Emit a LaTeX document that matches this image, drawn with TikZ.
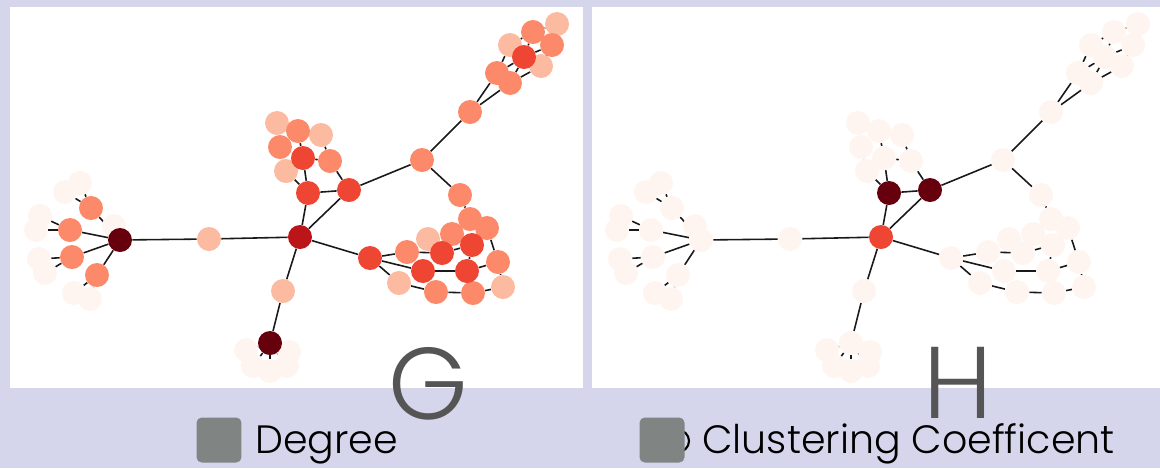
\documentclass[tikz,border=0pt]{standalone}
\usepackage{fontspec}
\setmainfont{Poppins}[UprightFont={* Light}]
\definecolor{bg}{RGB}{213,214,235}
\definecolor{c0}{RGB}{255,245,240}
\definecolor{c1}{RGB}{252,187,161}
\definecolor{c2}{RGB}{252,138,106}
\definecolor{c3}{RGB}{239,69,51}
\definecolor{c4}{RGB}{187,21,26}
\definecolor{c5}{RGB}{103,0,13}
\definecolor{gg}{RGB}{128,133,131}
\definecolor{tt}{RGB}{85,85,85}
\pgfdeclarelayer{back}
\pgfdeclarelayer{wires}
\pgfsetlayers{back,wires,main}
\def\hshift{581}
\def\noderad{0.48cm}
\newcommand{\netnode}[5]{\node[circle,minimum size=\noderad,inner sep=0pt,fill=#4] (g#3) at (#1,#2) {};
	\node[circle,minimum size=\noderad,inner sep=0pt,fill=#5] (h#3) at (#1+\hshift,#2) {}; }
\newcommand{\netedge}[2]{\draw[line width=0.9pt,color=black!90] (g#1) -- (g#2);
	\draw[line width=0.9pt,color=black!90] (h#1) -- (h#2); }

\begin{document}
\begin{tikzpicture}[x=0.02cm,y=-0.02cm]
\useasboundingbox (0,0) rectangle (1160,468);
\begin{pgfonlayer}{back}
\fill[bg] (0,0) rectangle (1160,468);
\fill[white] (10,7) rectangle (583,388);
\fill[white] (592,7) rectangle (1160,388);
\end{pgfonlayer}

\netnode{114}{226}{L0}{c0}{c0}
\netnode{80}{183}{L1}{c0}{c0}
\netnode{65}{192}{L2}{c0}{c0}
\netnode{40}{216}{L3}{c0}{c0}
\netnode{36}{230}{L4}{c0}{c0}
\netnode{39}{259}{L5}{c0}{c0}
\netnode{45}{273}{L6}{c0}{c0}
\netnode{74}{293}{L7}{c0}{c0}
\netnode{90}{299}{L8}{c0}{c0}
\netnode{246}{350}{E1}{c0}{c0}
\netnode{253}{366}{E2}{c0}{c0}
\netnode{270}{371}{E3}{c0}{c0}
\netnode{287}{366}{E4}{c0}{c0}
\netnode{289}{352}{E5}{c0}{c0}

\netnode{209}{239}{M}{c1}{c0}
\netnode{283}{291}{D}{c1}{c0}
\netnode{277}{123}{P1}{c1}{c0}
\netnode{321}{135}{P3}{c1}{c0}
\netnode{286}{171}{P7}{c1}{c0}
\netnode{510}{45}{R4}{c1}{c0}
\netnode{541}{66}{R7}{c1}{c0}
\netnode{557}{24}{R8}{c1}{c0}
\netnode{428}{239}{T4}{c1}{c0}
\netnode{399}{283}{T11}{c1}{c0}
\netnode{503}{287}{T14}{c1}{c0}

\netnode{91}{208}{B1}{c2}{c0}
\netnode{70}{230}{B2}{c2}{c0}
\netnode{72}{257}{B3}{c2}{c0}
\netnode{97}{275}{B4}{c2}{c0}
\netnode{298}{131}{P2}{c2}{c0}
\netnode{280}{147}{P4}{c2}{c0}
\netnode{330}{161}{P6}{c2}{c0}
\netnode{422}{160}{K}{c2}{c0}
\netnode{470}{112}{R0}{c2}{c0}
\netnode{460}{195}{Q}{c2}{c0}
\netnode{497}{73}{R1}{c2}{c0}
\netnode{510}{83}{R2}{c2}{c0}
\netnode{533}{32}{R5}{c2}{c0}
\netnode{552}{45}{R6}{c2}{c0}
\netnode{470}{219}{T1}{c2}{c0}
\netnode{487}{228}{T2}{c2}{c0}
\netnode{452}{234}{T3}{c2}{c0}
\netnode{407}{252}{T5}{c2}{c0}
\netnode{498}{262}{T8}{c2}{c0}
\netnode{436}{292}{T12}{c2}{c0}
\netnode{473}{293}{T13}{c2}{c0}

\netnode{303}{158}{P5}{c3}{c0}
\netnode{308}{193}{P8}{c3}{c5}
\netnode{349}{190}{P9}{c3}{c5}
\netnode{524}{57}{R3}{c3}{c0}
\netnode{370}{258}{S}{c3}{c0}
\netnode{442}{253}{T6}{c3}{c0}
\netnode{472}{245}{T7}{c3}{c0}
\netnode{423}{271}{T9}{c3}{c0}
\netnode{467}{271}{T10}{c3}{c0}

\netnode{300}{237}{C}{c4}{c3}
\netnode{120}{240}{A}{c5}{c0}
\netnode{270}{343}{E}{c5}{c0}

\begin{pgfonlayer}{wires}
\netedge{A}{M}
\netedge{M}{C}
\netedge{A}{L0}
\netedge{A}{B1}
\netedge{A}{B2}
\netedge{A}{B3}
\netedge{A}{B4}
\netedge{B1}{L1}
\netedge{B1}{L2}
\netedge{B2}{L3}
\netedge{B2}{L4}
\netedge{B3}{L5}
\netedge{B3}{L6}
\netedge{B4}{L7}
\netedge{B4}{L8}
\netedge{C}{D}
\netedge{D}{E}
\netedge{E}{E1}
\netedge{E}{E2}
\netedge{E}{E3}
\netedge{E}{E4}
\netedge{E}{E5}
\netedge{C}{P8}
\netedge{C}{P9}
\netedge{P8}{P9}
\netedge{P8}{P5}
\netedge{P8}{P7}
\netedge{P9}{P6}
\netedge{P5}{P2}
\netedge{P5}{P6}
\netedge{P6}{P3}
\netedge{P4}{P7}
\netedge{P1}{P2}
\netedge{P9}{K}
\netedge{K}{R0}
\netedge{K}{Q}
\netedge{R0}{R1}
\netedge{R0}{R2}
\netedge{R1}{R4}
\netedge{R1}{R3}
\netedge{R2}{R3}
\netedge{R2}{R7}
\netedge{R3}{R5}
\netedge{R3}{R6}
\netedge{R4}{R5}
\netedge{R5}{R8}
\netedge{R6}{R8}
\netedge{R6}{R7}
\netedge{C}{S}
\netedge{S}{T5}
\netedge{S}{T9}
\netedge{S}{T11}
\netedge{T5}{T6}
\netedge{T6}{T7}
\netedge{T4}{T6}
\netedge{T3}{T7}
\netedge{T9}{T10}
\netedge{T7}{T10}
\netedge{T11}{T12}
\netedge{T12}{T13}
\netedge{T13}{T14}
\netedge{T14}{T8}
\netedge{T8}{T10}
\netedge{T8}{T2}
\netedge{T2}{T1}
\netedge{T1}{Q}
\end{pgfonlayer}

\node[text=tt,inner sep=0pt,font=\fontsize{58}{58}\selectfont] (gname) at (428,384) {G};
\node[text=tt,inner sep=0pt,font=\fontsize{58}{58}\selectfont] (hname) at (958,383) {H};
\node[circle,draw,line width=1.2pt,minimum size=0.44cm,inner sep=0pt] (ring) at (678,441) {};
\node[fill=gg,rounded corners=3pt,minimum size=0.9cm,inner sep=0pt] (degbox) at (219,440) {};
\node[fill=gg,rounded corners=3pt,minimum size=0.9cm,inner sep=0pt] (clubox) at (662,440) {};
\node[anchor=base west,inner sep=0pt,font=\fontsize{22.5}{22.5}\selectfont] (degtxt) at (255,453) {Degree};
\node[anchor=base west,inner sep=0pt,font=\fontsize{22.5}{22.5}\selectfont] (clutxt) at (702,453) {Clustering Coefficent};
\end{tikzpicture}
\end{document}
